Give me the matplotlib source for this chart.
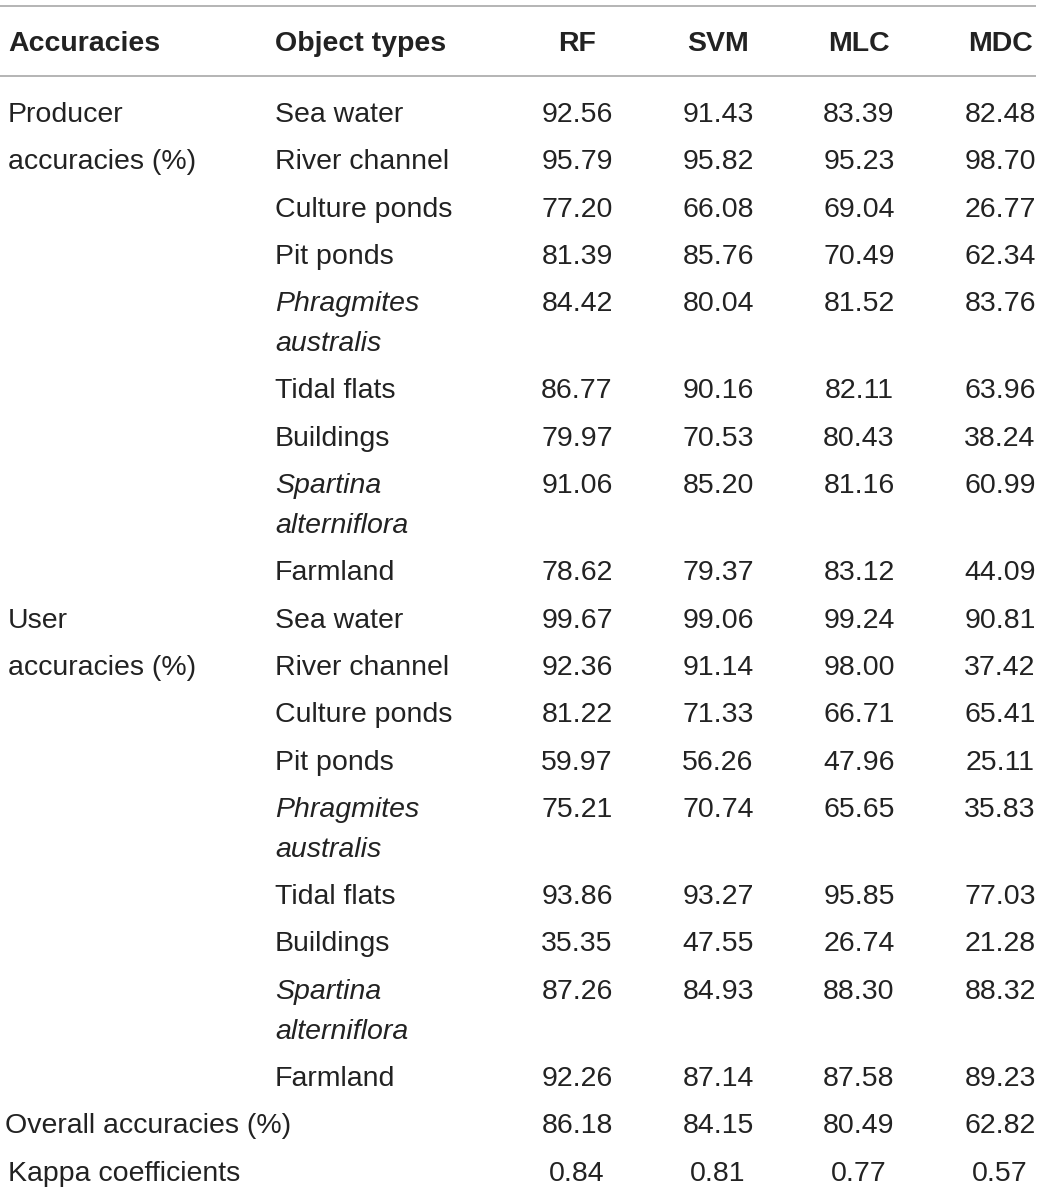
import matplotlib
matplotlib.use("Agg")
from matplotlib import pyplot as plt

# table content
methods = ["RF", "SVM", "MLC", "MDC"]
object_types = ["Sea water", "River channel", "Culture ponds", "Pit ponds",
                "Phragmites\naustralis", "Tidal flats", "Buildings",
                "Spartina\nalterniflora", "Farmland"]
italic_types = ["Phragmites\naustralis", "Spartina\nalterniflora"]

producer = [
    [92.56, 91.43, 83.39, 82.48],
    [95.79, 95.82, 95.23, 98.70],
    [77.20, 66.08, 69.04, 26.77],
    [81.39, 85.76, 70.49, 62.34],
    [84.42, 80.04, 81.52, 83.76],
    [86.77, 90.16, 82.11, 63.96],
    [79.97, 70.53, 80.43, 38.24],
    [91.06, 85.20, 81.16, 60.99],
    [78.62, 79.37, 83.12, 44.09],
]
user = [
    [99.67, 99.06, 99.24, 90.81],
    [92.36, 91.14, 98.00, 37.42],
    [81.22, 71.33, 66.71, 65.41],
    [59.97, 56.26, 47.96, 25.11],
    [75.21, 70.74, 65.65, 35.83],
    [93.86, 93.27, 95.85, 77.03],
    [35.35, 47.55, 26.74, 21.28],
    [87.26, 84.93, 88.30, 88.32],
    [92.26, 87.14, 87.58, 89.23],
]
overall = [86.18, 84.15, 80.49, 62.82]
kappa = [0.84, 0.81, 0.77, 0.57]

W, H = 1042, 1190
fig = plt.figure(figsize=(W / 100, H / 100), dpi=100)
ax = fig.add_axes([0, 0, 1, 1])
ax.set_xlim(0, W)
ax.set_ylim(H, 0)
ax.axis("off")

plt.rcParams["font.family"] = ["Liberation Sans", "DejaVu Sans"]
FS = 20.5
COLOR = "#222222"
x_acc, x_obj = 8, 275
x_cols = [577, 718, 859, 1000]
pitch = 47.3
off = 10  # baseline below row centre


def put(x, y, s, ha="left", **kw):
    ax.text(x, y + off, s, ha=ha, va="baseline", fontsize=FS, color=COLOR, **kw)


# rules
for yl in [6, 76]:
    ax.plot([0, 1036], [yl, yl], color="#b4b4b4", lw=1.4, solid_capstyle="butt")

# header
yh = 41
put(x_acc, yh, "Accuracies", weight="bold")
put(x_obj, yh, "Object types", weight="bold")
for xc, m in zip(x_cols, methods):
    put(xc, yh, m, ha="center", weight="bold")

y = 112
for label, block in [("Producer", producer), ("User", user)]:
    put(x_acc, y, label)
    put(x_acc, y + pitch, "accuracies (%)")
    for name, vals in zip(object_types, block):
        if name in italic_types:
            a, b = name.split("\n")
            put(x_obj, y, a, style="italic")
            put(x_obj, y + 40, b, style="italic")
        else:
            put(x_obj, y, name)
        for xc, v in zip(x_cols, vals):
            put(xc, y, f"{v:.2f}", ha="center")
        y += pitch + (40 if name in italic_types else 0)

put(5, y, "Overall accuracies (%)")
for xc, v in zip(x_cols, overall):
    put(xc, y, f"{v:.2f}", ha="center")
y += pitch
put(x_acc, y, "Kappa coefficients")
for xc, v in zip(x_cols, kappa):
    put(xc, y, f"{v:.2f}", ha="center")

fig.savefig("out.png", dpi=100)
